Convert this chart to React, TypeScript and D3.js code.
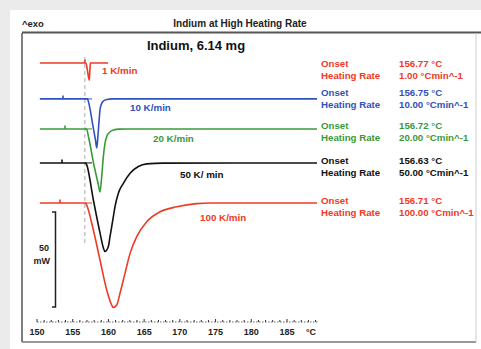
import React from "react";
import * as d3 from "d3";

// Heating-rate series for indium melting (temperature °C, heat flow mW relative to baseline)
const rates = ["1 K/min", "10 K/min", "20 K/min", "50 K/ min", "100 K/min"];
const colors = ["#ee3a26", "#2f52bd", "#3a9a3a", "#111111", "#ee3a26"];
const baselineOffsets = [0, -18.9, -34.7, -52.6, -73.7];
const onsets = ["156.77 °C", "156.75 °C", "156.72 °C", "156.63 °C", "156.71 °C"];
const heatingRates = ["1.00 °Cmin^-1", "10.00 °Cmin^-1", "20.00 °Cmin^-1", "50.00 °Cmin^-1", "100.00 °Cmin^-1"];
const markerTemps = [156.72, 153.64, 153.92, 153.5, 153.22];
const curveEnds = [159.95, 189.2, 189.2, 189.2, 189.2];

const rate1: [number, number][] = [
  [150.4, 0], [156.85, 0], [157.0, -2.5], [157.32, -9], [157.4, -4], [157.46, 0], [159.95, 0],
];
const rate10: [number, number][] = [
  [150.4, 0], [157.05, 0], [157.3, -3], [157.8, -13.5], [158.2, -22], [158.36, -25.8],
  [158.5, -21], [158.7, -11], [158.82, -5.8], [159.0, -2.9], [159.3, -1.1], [159.8, -0.3],
  [160.5, 0], [189.2, 0],
];
const rate20: [number, number][] = [
  [150.4, 0], [156.95, 0], [157.2, -4], [158.0, -19.5], [158.6, -29.5], [158.82, -33.2],
  [159.06, -25], [159.29, -14.6], [159.5, -8], [159.76, -4], [160.1, -2], [160.46, -0.9],
  [161.4, -0.1], [162.5, 0], [189.2, 0],
];
const rate50: [number, number][] = [
  [150.4, 0], [156.8, 0], [156.96, -1], [157.89, -19.5], [158.82, -36.8], [159.29, -44.7],
  [159.52, -46.6], [159.99, -44], [160.22, -38.8], [160.46, -33.5], [160.69, -28.3],
  [160.92, -23], [161.39, -15.9], [162.09, -10.7], [163.03, -5.4], [164.19, -1.9],
  [165.36, -0.5], [167.69, -0.1], [189.2, 0],
];
const rate100: [number, number][] = [
  [150.4, 0], [156.8, 0], [156.96, -1.1], [157.89, -14.2], [158.82, -30], [159.76, -45.8],
  [160.46, -53.7], [160.69, -55], [161.16, -53.7], [161.62, -47.5], [162.32, -37],
  [163.03, -26.5], [163.96, -17.7], [165.36, -9.8], [167.23, -4.6], [169.57, -2],
  [172.37, -0.3], [174.23, 0], [189.2, 0],
];
const seriesData = [rate1, rate10, rate20, rate50, rate100];

const majorTicks = [150, 155, 160, 165, 170, 175, 180, 185];
const onsetLineTemp = 156.7;
const scaleBarMw = 50;

const font = "'Liberation Sans', Arial, sans-serif";

export default function App() {
  const W = 481;
  const H = 349;
  const x = d3.scaleLinear().domain([150, 185]).range([37, 287]);
  const y = d3.scaleLinear().domain([0, -50]).range([63, 158]);
  const line = d3
    .line<[number, number]>()
    .x((d) => x(d[0]))
    .y((d) => y(d[1]))
    .curve(d3.curveMonotoneX);

  const minorTicks = d3.range(150, 190, 1);
  const axisY = 322;

  const labelPos = [
    [102, 74], [130, 111], [153, 142], [180, 178], [200, 221],
  ];
  const legendY = [63, 92, 125, 160, 200];

  const scaleTop = 212;
  const scaleBot = scaleTop + (y(-scaleBarMw) - y(0));

  return (
    <svg
      width={W}
      height={H}
      style={{ position: "absolute", left: 0, top: 0, display: "block" }}
      fontFamily={font}
    >
      <rect x={0} y={0} width={W} height={H} fill="#ebebeb" />
      <rect x={10} y={10} width={W - 10} height={H - 10} fill="#ffffff" />

      {/* header */}
      <text x={22} y={27} fontSize={9.5} fontWeight="bold" fill="#222">^exo</text>
      <text x={240} y={27} fontSize={10} fontWeight="bold" fill="#222" textAnchor="middle">
        Indium at High Heating Rate
      </text>
      <line x1={22} x2={W} y1={32.5} y2={32.5} stroke="#555" strokeWidth={2} />

      {/* frame */}
      <line x1={22} x2={22} y1={33} y2={342} stroke="#555" strokeWidth={1.5} />
      <line x1={22} x2={476} y1={342} y2={342} stroke="#777" strokeWidth={1.5} />
      <line x1={476} x2={476} y1={33} y2={342} stroke="#ccc" strokeWidth={1} />

      <text x={196} y={50} fontSize={13} fontWeight="bold" fill="#111" textAnchor="middle">
        Indium, 6.14 mg
      </text>

      {/* onset reference */}
      <line
        x1={x(onsetLineTemp)}
        x2={x(onsetLineTemp)}
        y1={57}
        y2={245}
        stroke="#aaa"
        strokeWidth={1}
        strokeDasharray="4,3"
      />

      {seriesData.map((data, i) => {
        const off = baselineOffsets[i];
        const shifted = data
          .filter((d) => d[0] <= curveEnds[i])
          .map((d) => [d[0], d[1] + off] as [number, number]);
        const by = y(off);
        return (
          <g key={i}>
            <path d={line(shifted) || ""} fill="none" stroke={colors[i]} strokeWidth={1.6} />
            {i > 0 && (
              <line
                x1={x(onsetLineTemp)}
                x2={x(157.7)}
                y1={by}
                y2={by}
                stroke={colors[i]}
                strokeWidth={1}
              />
            )}
            <line
              x1={x(markerTemps[i])}
              x2={x(markerTemps[i])}
              y1={by}
              y2={by - 3.5}
              stroke={colors[i]}
              strokeWidth={1.6}
            />
            <text
              x={labelPos[i][0]}
              y={labelPos[i][1]}
              fontSize={9.8}
              fontWeight="bold"
              fill={colors[i]}
            >
              {rates[i]}
            </text>
            <text x={321} y={legendY[i] + 3.5} fontSize={9.7} fontWeight="bold" fill={colors[i]}>
              Onset
            </text>
            <text x={321} y={legendY[i] + 16} fontSize={9.7} fontWeight="bold" fill={colors[i]}>
              Heating Rate
            </text>
            <text x={399} y={legendY[i] + 3.5} fontSize={9.7} fontWeight="bold" fill={colors[i]}>
              {onsets[i]}
            </text>
            <text x={399} y={legendY[i] + 16} fontSize={9.7} fontWeight="bold" fill={colors[i]}>
              {heatingRates[i]}
            </text>
          </g>
        );
      })}

      {/* 50 mW scale bar */}
      <path
        d={`M52,${scaleTop}H55.5V${scaleBot}H52`}
        fill="none"
        stroke="#222"
        strokeWidth={1.5}
      />
      <text x={49} y={251} fontSize={9} fontWeight="bold" fill="#222" textAnchor="end">50</text>
      <text x={50} y={264} fontSize={9} fontWeight="bold" fill="#222" textAnchor="end">mW</text>

      {/* temperature axis */}
      <line x1={x(150)} x2={x(189.3)} y1={axisY} y2={axisY} stroke="#444" strokeWidth={0.8} strokeDasharray="1.5,1.5" />
      {minorTicks.map((t) => (
        <line
          key={t}
          x1={x(t)}
          x2={x(t)}
          y1={axisY}
          y2={axisY - (t % 5 === 0 ? 3 : 2)}
          stroke="#333"
          strokeWidth={1}
        />
      ))}
      {majorTicks.map((t) => (
        <text
          key={t}
          x={x(t)}
          y={334.5}
          fontSize={9}
          fontWeight="bold"
          fill="#222"
          textAnchor="middle"
        >
          {t}
        </text>
      ))}
      <text x={311} y={334.5} fontSize={9} fontWeight="bold" fill="#222" textAnchor="middle">
        °C
      </text>
    </svg>
  );
}
